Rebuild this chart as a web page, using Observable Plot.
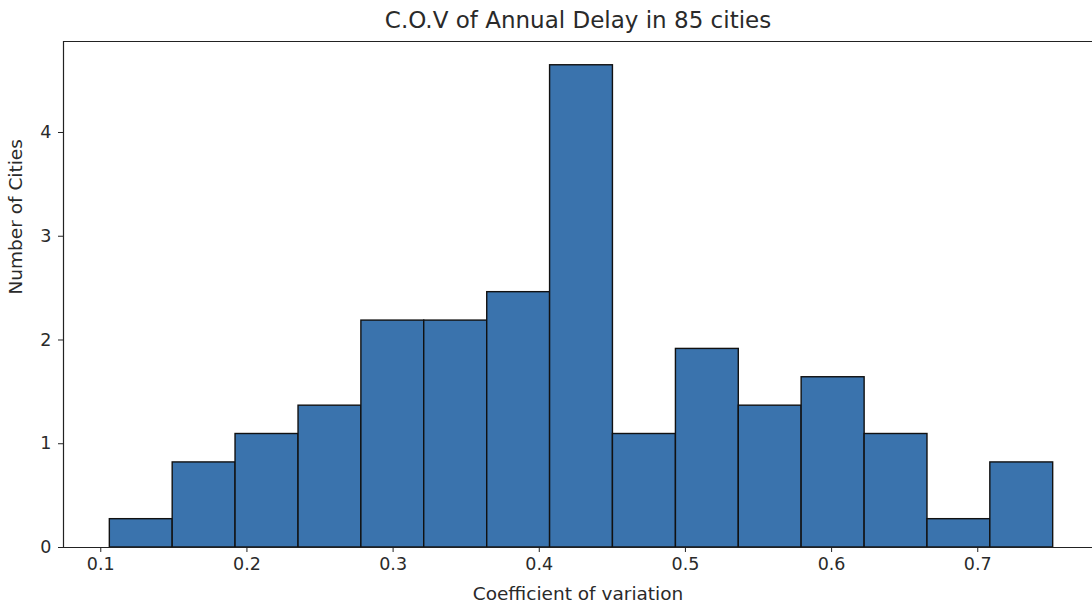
<!DOCTYPE html>
<html>
<head>
<meta charset="utf-8">
<script src="https://cdn.jsdelivr.net/npm/d3@7"></script>
<script src="https://cdn.jsdelivr.net/npm/@observablehq/plot@0.6"></script>
<style>
  html, body { margin: 0; padding: 0; background: #fff; }
  #chart svg { display: block; }
</style>
</head>
<body>
<div id="chart"></div>
<script>
// Histogram bin edges (coefficient of variation)
const binEdges = [0.1062, 0.1492, 0.1922, 0.2353, 0.2783, 0.3213, 0.3644, 0.4074,
                  0.4504, 0.4935, 0.5365, 0.5795, 0.6226, 0.6656, 0.7086, 0.7516];
// Density values (matplotlib density=True)
const densities = [0.273, 0.820, 1.094, 1.367, 2.187, 2.187, 2.461, 4.648,
                   1.094, 1.914, 1.367, 1.641, 1.094, 0.273, 0.820];
const xTicks = [0.1, 0.2, 0.3, 0.4, 0.5, 0.6, 0.7];
const yTicks = [0, 1, 2, 3, 4];
const titleText = "C.O.V of Annual Delay in 85 cities";
const xLabel = "Coefficient of variation";
const yLabel = "Number of Cities";

const bins = densities.map((d, i) => ({x1: binEdges[i], x2: binEdges[i + 1], y: d}));

const xDomain = [0.0745, 0.7785];
const yDomain = [0, 4.877];
const font = "'DejaVu Sans', sans-serif";
const ink = "#2a2a2a";

const chart = Plot.plot({
  width: 1092,
  height: 605,
  marginLeft: 63,
  marginRight: 0,
  marginTop: 41,
  marginBottom: 58,
  style: {fontFamily: font, background: "#fff", color: ink},
  x: {domain: xDomain, range: [63, 1092]},
  y: {domain: yDomain},
  marks: [
    Plot.rectY(bins, {x1: "x1", x2: "x2", y: "y", fill: "#3a73ad", stroke: "#111", strokeWidth: 1.4}),
    Plot.ruleY([yDomain[1]], {stroke: "#222", strokeWidth: 1.2}),
    Plot.ruleY([0], {stroke: "#222", strokeWidth: 1.2}),
    Plot.ruleX([xDomain[0]], {stroke: "#222", strokeWidth: 1.2}),
    Plot.axisX({ticks: xTicks, tickFormat: d => String(d), tickSize: 5, tickPadding: 5, fontSize: 17.5, label: null, stroke: "#222"}),
    Plot.axisY({ticks: yTicks, tickFormat: d => String(d), tickSize: 5, tickPadding: 7, fontSize: 17.5, label: null, stroke: "#222"}),
    Plot.text([titleText], {frameAnchor: "top", lineAnchor: "middle", dy: -21, fontSize: 23, fill: ink}),
    Plot.text([xLabel], {frameAnchor: "bottom", lineAnchor: "middle", dy: 47, fontSize: 18.5, fill: ink}),
    Plot.text([yLabel], {frameAnchor: "left", dx: -47, rotate: -90, fontSize: 18.5, fill: ink})
  ]
});
document.getElementById("chart").appendChild(chart);
</script>
</body>
</html>
